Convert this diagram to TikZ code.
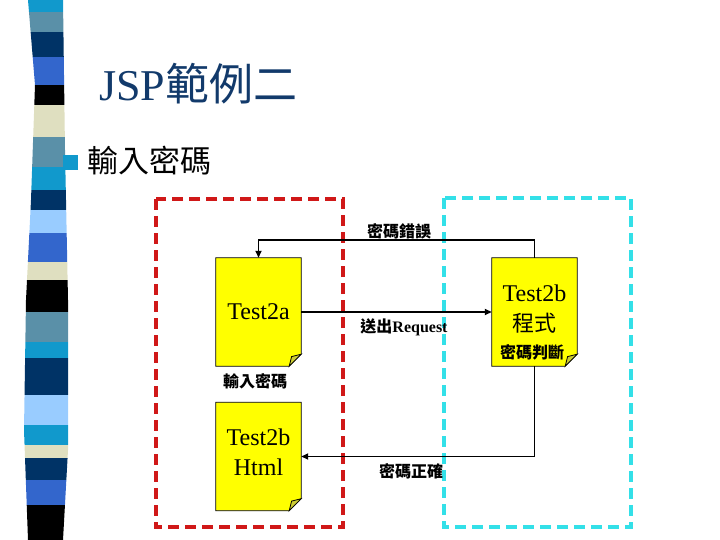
\documentclass[tikz,border=0pt]{standalone}
\usepackage{fontspec}
\setmainfont{Liberation Serif}
\newfontfamily\cjk{Noto Sans CJK TC}
\usetikzlibrary{calc,arrows.meta}
\definecolor{sCyan}{HTML}{1199CC}
\definecolor{sSteel}{HTML}{5A90A8}
\definecolor{sNavy}{HTML}{003366}
\definecolor{sRoyal}{HTML}{3366CC}
\definecolor{sBeige}{HTML}{DFDFC0}
\definecolor{sLight}{HTML}{99CCFF}
\definecolor{titleBlue}{HTML}{123A6B}
\definecolor{boxRed}{HTML}{D01818}
\definecolor{boxCyan}{HTML}{33E0E8}
\definecolor{docYellow}{HTML}{FFFF00}
\definecolor{foldOlive}{HTML}{CCCC33}
\begin{document}
\begin{tikzpicture}[x=1pt,y=-1pt,
  doc/.style={minimum width=85pt, minimum height=108pt, inner sep=0pt},
  conn/.style={line width=1.8pt, draw=black},
  arr/.style={-{Triangle[length=7pt,width=6pt]}},
  lbl/.style={inner sep=0pt, font=\fontsize{16}{18}\selectfont\bfseries},
  doctext/.style={inner sep=0pt, align=center, font=\fontsize{24}{30}\selectfont},
  region/.style={line width=3.2pt, dash pattern=on 11pt off 6pt},
]
\useasboundingbox (0,0) rectangle (720,540);
% left stripe bar
\begin{scope}
\clip (28,0) -- (63,0) -- (65,150) -- (68,300) -- (68,450) -- (63,540) -- (28,540) -- (24,430) -- (26,300) -- (31,200) -- (35,85) -- cycle;
\fill[sCyan] (15,0) rectangle (80,12);
\fill[sSteel] (15,12) rectangle (80,32);
\fill[sNavy] (15,32) rectangle (80,57);
\fill[sRoyal] (15,57) rectangle (80,85);
\fill[black] (15,85) rectangle (80,105);
\fill[sBeige] (15,105) rectangle (80,137);
\fill[sSteel] (15,137) rectangle (80,167);
\fill[sCyan] (15,167) rectangle (80,190);
\fill[sNavy] (15,190) rectangle (80,210);
\fill[sLight] (15,210) rectangle (80,233);
\fill[sRoyal] (15,233) rectangle (80,262);
\fill[sBeige] (15,262) rectangle (80,280);
\fill[black] (15,280) rectangle (80,312);
\fill[sSteel] (15,312) rectangle (80,342);
\fill[sCyan] (15,342) rectangle (80,358);
\fill[sNavy] (15,358) rectangle (80,395);
\fill[sLight] (15,395) rectangle (80,425);
\fill[sCyan] (15,425) rectangle (80,445);
\fill[sBeige] (15,445) rectangle (80,458);
\fill[sNavy] (15,458) rectangle (80,480);
\fill[sRoyal] (15,480) rectangle (80,505);
\fill[black] (15,505) rectangle (80,540);
\end{scope}
% bullet
\fill[sCyan] (63,155) rectangle (78,170);
% title
\node[anchor=west, inner sep=0pt, text=titleBlue, font=\fontsize{44}{48}\selectfont] (title) at (99,84) {JSP{\cjk 範例二}};
\node[anchor=west, inner sep=0pt, font=\fontsize{31}{34}\selectfont\cjk] (sub) at (87,161) {輸入密碼};
% regions
\draw[region, boxRed] (156,199) rectangle (343,527);
\draw[region, boxCyan] (444,198) rectangle (631,527);
% documents
\node[doc] (a) at (258.5,312) {};
\node[doc] (h) at (258.5,456.5) {};
\node[doc] (b) at (534.5,312) {};
\foreach \n in {a,h,b}{
  \draw[fill=docYellow, line width=0.8pt] (\n.north west) -- (\n.north east) -- ($(\n.south east)+(0,-12)$) -- ($(\n.south east)+(-12,0)$) -- (\n.south west) -- cycle;
  \draw[fill=foldOlive, line width=0.8pt] ($(\n.south east)+(0,-12)$) -- ($(\n.south east)+(-12,0)$) -- ($(\n.south east)+(-9.6,-9.6)$) -- cycle;
}
\node[doctext] (ta) at (a.center) {Test2a};
\node[doctext] (th) at (258.5,452) {Test2b\\Html};
\node[doctext] (tb) at (534.5,309) {Test2b\\{\cjk\fontsize{22}{30}\selectfont 程式}};
\node[lbl] (lb) at (532,352) {\cjk 密碼判斷};
\node[lbl] (la) at (255,381) {\cjk 輸入密碼};
% connectors
\draw[conn, arr] (b.north) -- ++(0,-18) -| (a.north);
\draw[conn, arr] (a.east) -- (b.west);
\draw[conn, arr] (b.south) |- (h.east);
\node[lbl] (l1) at (399,231) {\cjk 密碼錯誤};
\node[lbl] (l2) at (404,327) {{\cjk 送出}Request};
\node[lbl] (l3) at (411,471) {\cjk 密碼正確};
\end{tikzpicture}
\end{document}
